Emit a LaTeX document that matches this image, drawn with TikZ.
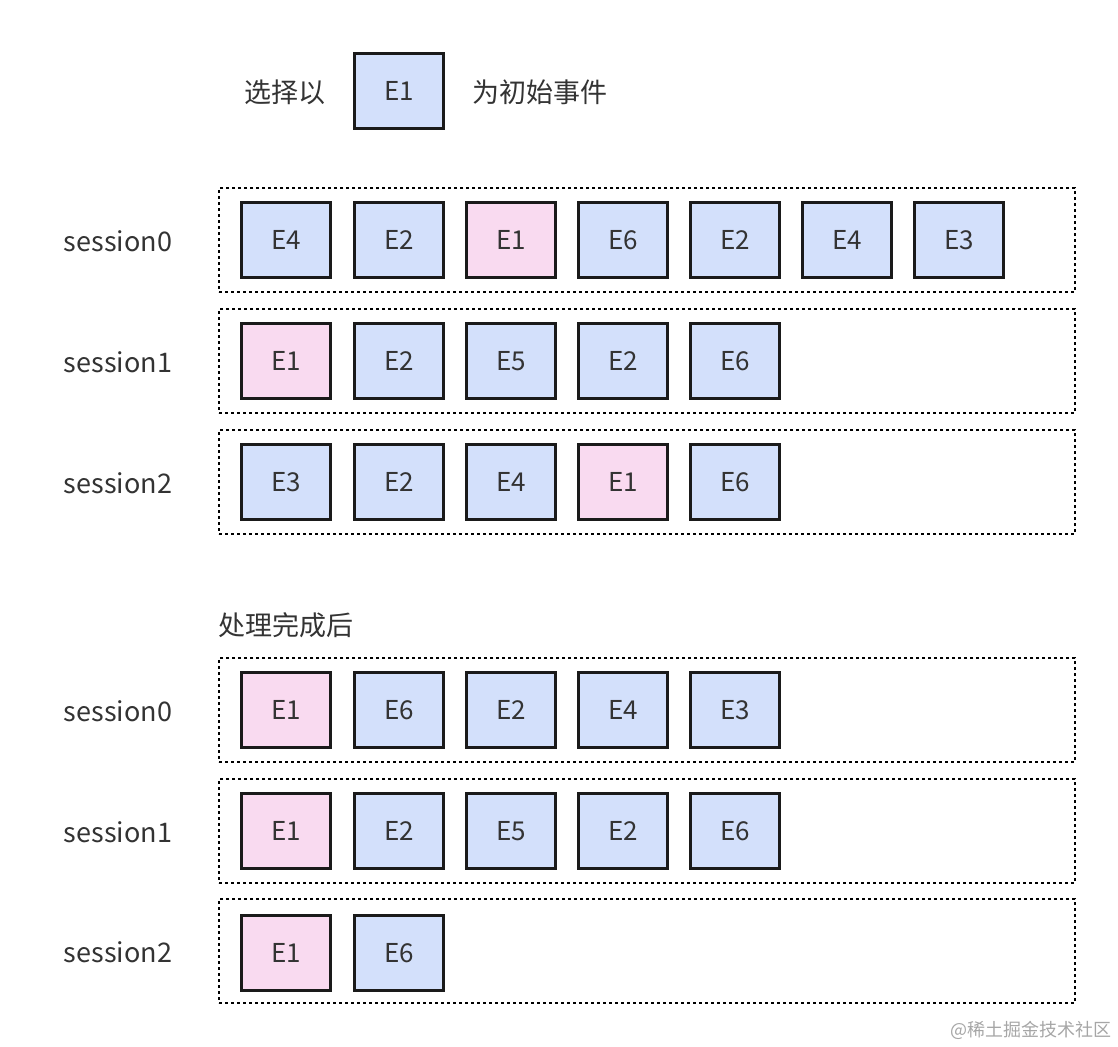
\documentclass[tikz,border=0pt]{standalone}
\usepackage{fontspec}
\setmainfont{Noto Sans CJK SC}
\definecolor{evblue}{HTML}{D3E0FB}
\definecolor{evpink}{HTML}{F9DAF0}
\definecolor{evline}{HTML}{1A1A1A}
\definecolor{txt}{HTML}{333333}

\begin{document}
\begin{tikzpicture}[x=0.5pt, y=-0.5pt,
  evt/.style={draw=evline, line width=1.4pt, fill=evblue, minimum width=44.6pt, minimum height=37.6pt, inner sep=0pt, font=\fontsize{13}{15}\selectfont, text=txt},
  first/.style={evt, fill=evpink},
  frame/.style={draw=black, line width=1.1pt, dash pattern=on 1.6pt off 1.4pt, minimum width=428pt, minimum height=52pt, inner sep=0pt},
  lbl/.style={font=\fontsize{13.5}{15}\selectfont, text=txt, inner sep=0pt}]
\useasboundingbox (0,0) rectangle (1118,1046);

% legend
\node[lbl] (pick) at (285,92) {选择以};
\node[evt] (key) at (399,91) {E1};
\node[lbl] (init) at (540,92) {为初始事件};

% before
\node[frame] (fa0) at (647,240) {}; \node[lbl] (la0) at (118,241) {session0};
\node[frame] (fa1) at (647,361) {}; \node[lbl] (la1) at (118,362) {session1};
\node[frame] (fa2) at (647,482) {}; \node[lbl] (la2) at (118,483) {session2};

\node[evt] (a00) at (286,240) {E4}; \node[evt] (a01) at (399,240) {E2}; \node[first] (a02) at (511,240) {E1};
\node[evt] (a03) at (623,240) {E6}; \node[evt] (a04) at (735,240) {E2}; \node[evt] (a05) at (847,240) {E4};
\node[evt] (a06) at (959,240) {E3};

\node[first] (a10) at (286,361) {E1}; \node[evt] (a11) at (399,361) {E2}; \node[evt] (a12) at (511,361) {E5};
\node[evt] (a13) at (623,361) {E2}; \node[evt] (a14) at (735,361) {E6};

\node[evt] (a20) at (286,482) {E3}; \node[evt] (a21) at (399,482) {E2}; \node[evt] (a22) at (511,482) {E4};
\node[first] (a23) at (623,482) {E1}; \node[evt] (a24) at (735,482) {E6};

% after
\node[lbl, anchor=west] (done) at (218,625) {处理完成后};

\node[frame] (fb0) at (647,710) {}; \node[lbl] (lb0) at (118,711) {session0};
\node[frame] (fb1) at (647,831) {}; \node[lbl] (lb1) at (118,832) {session1};
\node[frame] (fb2) at (647,951) {}; \node[lbl] (lb2) at (118,952) {session2};

\node[first] (b00) at (286,710) {E1}; \node[evt] (b01) at (399,710) {E6}; \node[evt] (b02) at (511,710) {E2};
\node[evt] (b03) at (623,710) {E4}; \node[evt] (b04) at (735,710) {E3};

\node[first] (b10) at (286,831) {E1}; \node[evt] (b11) at (399,831) {E2}; \node[evt] (b12) at (511,831) {E5};
\node[evt] (b13) at (623,831) {E2}; \node[evt] (b14) at (735,831) {E6};

\node[first] (b20) at (286,953) {E1}; \node[evt] (b21) at (399,953) {E6};

\node[anchor=east, inner sep=0pt, text=black!35, font=\fontsize{9}{10}\selectfont] (mark) at (1112,1030) {@稀土掘金技术社区};
\end{tikzpicture}
\end{document}
